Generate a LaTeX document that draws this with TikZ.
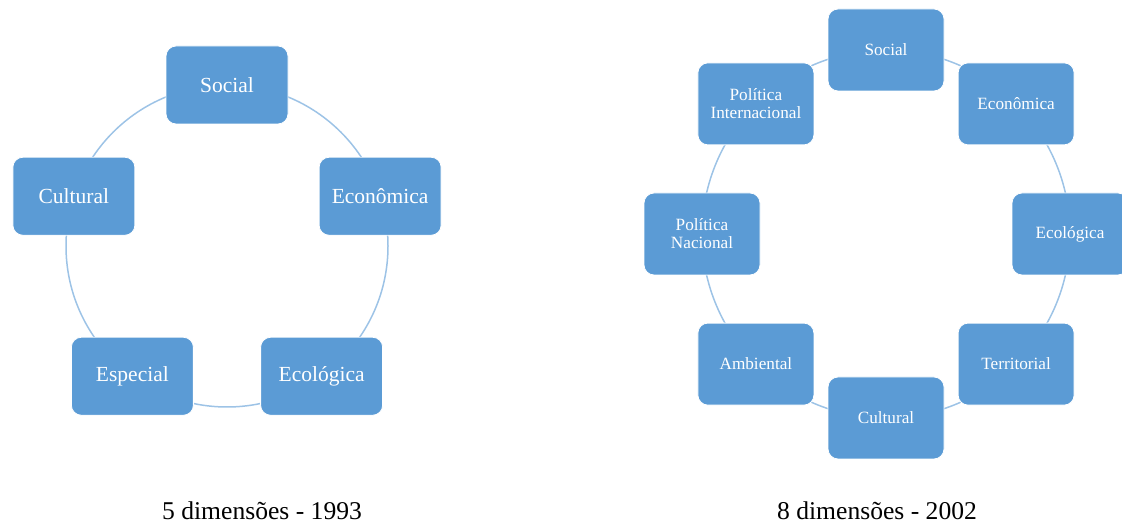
\documentclass[tikz,border=0pt]{standalone}
\usepackage{fontspec}
\setmainfont{Liberation Serif}
\usepackage{xcolor}
\usepackage{tikz}
\usetikzlibrary{positioning}

\definecolor{boxblue}{HTML}{5B9BD5}
\definecolor{ringblue}{HTML}{9DC3E6}

\begin{document}
\begin{tikzpicture}[x=1pt, y=1pt]
\tikzstyle{dimA} = [rectangle, draw=white, line width=0.8pt, fill=boxblue, text=white, minimum width=122, minimum height=78, rounded corners=10pt, align=center, font=\fontsize{21.5}{23}\selectfont]
\tikzstyle{dimB} = [rectangle, draw=white, line width=0.8pt, fill=boxblue, text=white, minimum width=116, minimum height=82, rounded corners=10pt, align=center, font=\fontsize{17.2}{18}\selectfont]
\tikzstyle{ring} = [ringblue, line width=1.5pt]
\tikzstyle{caption} = [font=\fontsize{25.6}{27}\selectfont]

\useasboundingbox (0,0) rectangle (1122,524);

% 5 dimensoes
\coordinate (c1) at (227,278);
\draw [ring] (c1) circle (161);
\begin{scope}[shift={(c1)}]
\node (a1) [dimA] at (90:161) {Social};
\node (a2) [dimA] at (18:161) {Econômica};
\node (a3) [dimA] at (-54:161) {Ecológica};
\node (a4) [dimA] at (-126:161) {Especial};
\node (a5) [dimA] at (162:161) {Cultural};
\end{scope}

% 8 dimensoes
\coordinate (c2) at (886,290);
\draw [ring] (c2) circle (184);
\begin{scope}[shift={(c2)}]
\node (b1) [dimB] at (90:184) {Social};
\node (b2) [dimB] at (45:184) {Econômica};
\node (b3) [dimB] at (0:184) {Ecológica};
\node (b4) [dimB] at (-45:184) {Territorial};
\node (b5) [dimB] at (-90:184) {Cultural};
\node (b6) [dimB] at (-135:184) {Ambiental};
\node (b7) [dimB] at (180:184) {Política\\Nacional};
\node (b8) [dimB] at (135:184) {Política\\Internacional};
\end{scope}

\node (capA) [caption] at (262,13) {5 dimensões - 1993};
\node (capB) [caption] at (877,13) {8 dimensões - 2002};

\end{tikzpicture}
\end{document}
